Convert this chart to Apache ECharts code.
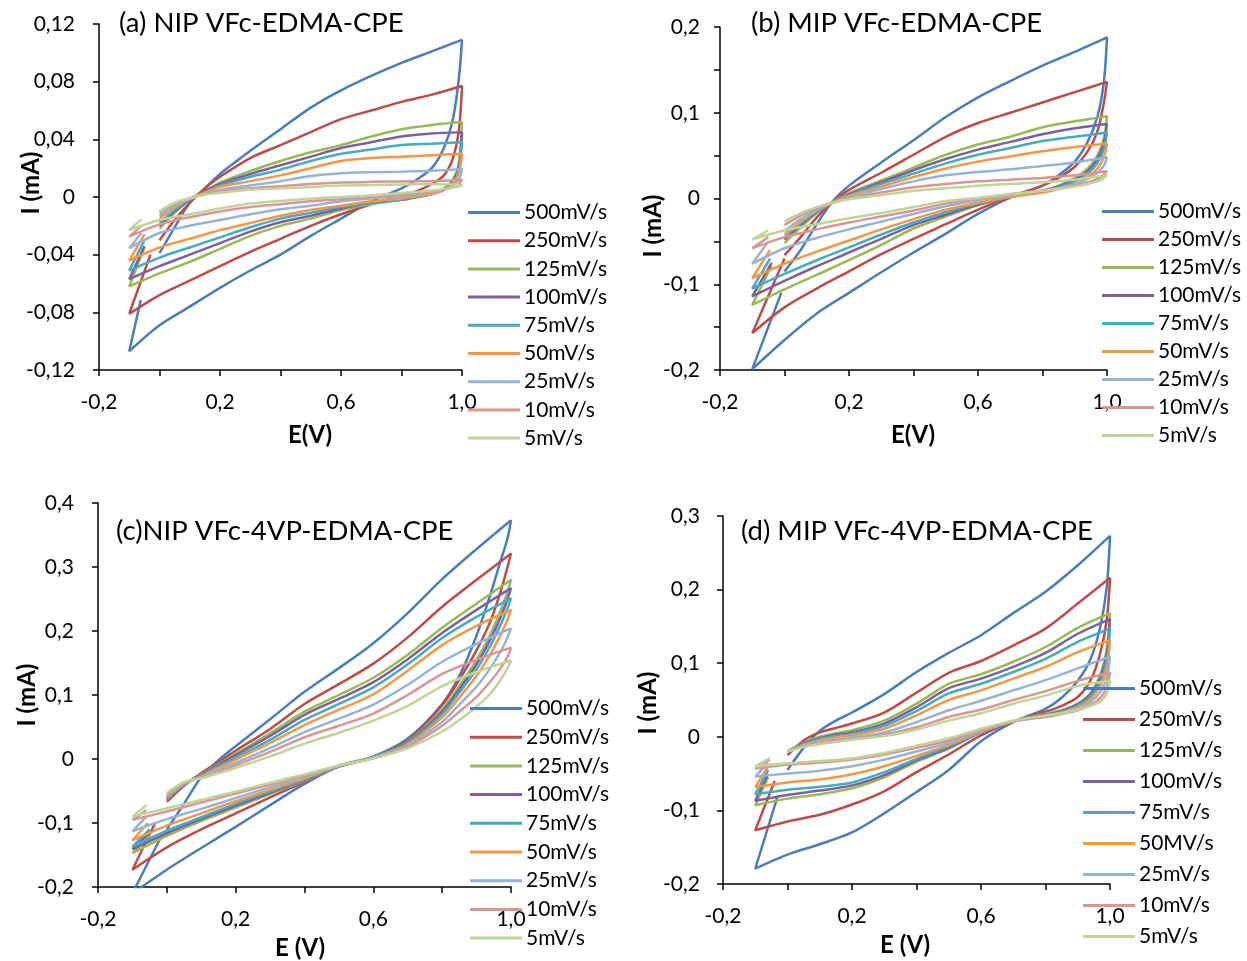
<!DOCTYPE html>
<html>
<head>
<meta charset="utf-8">
<script src="https://cdn.jsdelivr.net/npm/echarts@6/dist/echarts.min.js"></script>
<style>html,body{margin:0;padding:0;background:#fff;}#chart{width:1247px;height:961px;}</style>
</head>
<body>
<div id="chart"></div>
<script>
// ---------- DATA ----------
const SERIES_NAMES = ['500mV/s','250mV/s','125mV/s','100mV/s','75mV/s','50mV/s','25mV/s','10mV/s','5mV/s'];
const SERIES_NAMES_D = ['500mV/s','250mV/s','125mV/s','100mV/s','75mV/s','50MV/s','25mV/s','10mV/s','5mV/s'];
const PANEL_TITLES = ['(a) NIP VFc-EDMA-CPE','(b) MIP VFc-EDMA-CPE','(c)NIP VFc-4VP-EDMA-CPE','(d) MIP VFc-4VP-EDMA-CPE'];
const X_TITLES = ['E(V)','E(V)','E (V)','E (V)'];
const Y_TITLE = 'I (mA)';
// potentials (V) of the anodic (forward) sweep and the cathodic (reverse) sweep
const E_FWD = [0, 0.05, 0.1, 0.15, 0.2, 0.3, 0.4, 0.5, 0.6, 0.7, 0.8, 0.9, 1.0];
const E_REV = [0.99, 0.97, 0.94, 0.9, 0.85, 0.8, 0.7, 0.6, 0.5, 0.4, 0.3, 0.2, 0.1, 0.0, -0.1];

// (a) NIP VFc-EDMA-CPE  (rows: 500,250,125,100,75,50,25,10,5 mV/s)
const a_forward = [
 [-0.039,-0.021,-0.004,0.006,0.016,0.032,0.047,0.062,0.074,0.084,0.093,0.101,0.109],
 [-0.030,-0.016,-0.004,0.006,0.014,0.027,0.036,0.045,0.054,0.060,0.066,0.071,0.077],
 [-0.022,-0.011,-0.002,0.004,0.010,0.018,0.025,0.031,0.036,0.042,0.047,0.050,0.052],
 [-0.020,-0.010,-0.002,0.004,0.009,0.016,0.022,0.028,0.034,0.038,0.042,0.044,0.045],
 [-0.018,-0.009,-0.002,0.003,0.008,0.014,0.019,0.025,0.030,0.033,0.036,0.037,0.038],
 [-0.015,-0.007,-0.001,0.003,0.007,0.011,0.015,0.020,0.025,0.027,0.028,0.029,0.030],
 [-0.013,-0.006,-0.001,0.002,0.005,0.008,0.011,0.0145,0.0165,0.0172,0.0176,0.0182,0.0195],
 [-0.011,-0.005,-0.001,0.002,0.004,0.006,0.0075,0.009,0.010,0.0105,0.0108,0.011,0.012],
 [-0.010,-0.004,-0.001,0.0015,0.003,0.005,0.006,0.007,0.008,0.0083,0.0087,0.0088,0.0085]
];
const a_reverse = [
 [0.083,0.054,0.034,0.020,0.012,0.006,-0.003,-0.015,-0.027,-0.040,-0.051,-0.063,-0.076,-0.089,-0.107],
 [0.047,0.027,0.015,0.009,0.004,0.001,-0.005,-0.012,-0.020,-0.029,-0.038,-0.048,-0.058,-0.068,-0.081],
 [0.024,0.012,0.006,0.002,0.0,-0.002,-0.005,-0.009,-0.015,-0.020,-0.027,-0.036,-0.045,-0.053,-0.062],
 [0.022,0.011,0.005,0.002,0.0,-0.002,-0.004,-0.008,-0.013,-0.0175,-0.024,-0.032,-0.040,-0.048,-0.057],
 [0.020,0.010,0.005,0.002,0.0,-0.0015,-0.004,-0.007,-0.011,-0.015,-0.021,-0.028,-0.035,-0.042,-0.051],
 [0.017,0.009,0.005,0.002,0.0005,-0.001,-0.003,-0.006,-0.009,-0.013,-0.018,-0.023,-0.029,-0.035,-0.044],
 [0.012,0.008,0.005,0.003,0.0015,0.0005,-0.001,-0.003,-0.006,-0.0085,-0.012,-0.016,-0.020,-0.025,-0.0355],
 [0.009,0.007,0.005,0.0035,0.0025,0.0015,0.0,-0.0015,-0.003,-0.005,-0.007,-0.010,-0.014,-0.019,-0.0275],
 [0.0075,0.0065,0.0055,0.0045,0.0035,0.0028,0.0012,0.0,-0.0012,-0.0027,-0.0045,-0.0079,-0.012,-0.016,-0.023]
];
const a_tailE = [-0.062,-0.03,-0.05,-0.05,-0.05,-0.05,-0.06,-0.06,-0.06];
const a_tailI = [-0.0715,-0.040,-0.035,-0.034,-0.030,-0.026,-0.025,-0.020,-0.0155];

// (b) MIP VFc-EDMA-CPE
const b_forward = [
 [-0.085,-0.06,-0.03,-0.003,0.015,0.042,0.068,0.095,0.118,0.137,0.155,0.171,0.188],
 [-0.066,-0.045,-0.022,-0.004,0.010,0.030,0.051,0.072,0.088,0.100,0.112,0.124,0.136],
 [-0.052,-0.034,-0.017,-0.004,0.006,0.021,0.036,0.051,0.063,0.072,0.083,0.090,0.096],
 [-0.048,-0.031,-0.016,-0.004,0.005,0.019,0.033,0.046,0.057,0.066,0.075,0.082,0.087],
 [-0.045,-0.029,-0.015,-0.004,0.004,0.017,0.029,0.041,0.051,0.059,0.067,0.072,0.077],
 [-0.042,-0.027,-0.014,-0.004,0.003,0.014,0.025,0.035,0.043,0.049,0.055,0.060,0.064],
 [-0.038,-0.024,-0.013,-0.005,0.001,0.011,0.020,0.027,0.031,0.034,0.038,0.042,0.048],
 [-0.031,-0.020,-0.011,-0.005,0.0,0.007,0.013,0.017,0.020,0.022,0.024,0.027,0.032],
 [-0.027,-0.017,-0.010,-0.005,-0.001,0.004,0.009,0.012,0.015,0.017,0.019,0.022,0.027]
];
const b_reverse = [
 [0.135,0.095,0.066,0.043,0.027,0.015,0.001,-0.018,-0.041,-0.063,-0.086,-0.110,-0.134,-0.165,-0.199],
 [0.111,0.078,0.055,0.037,0.024,0.015,0.002,-0.013,-0.030,-0.047,-0.065,-0.085,-0.105,-0.127,-0.157],
 [0.070,0.050,0.035,0.024,0.015,0.009,0.002,-0.008,-0.021,-0.035,-0.054,-0.072,-0.089,-0.106,-0.124],
 [0.064,0.046,0.032,0.022,0.014,0.009,0.002,-0.007,-0.019,-0.031,-0.047,-0.063,-0.079,-0.096,-0.114],
 [0.057,0.041,0.029,0.020,0.013,0.008,0.002,-0.006,-0.016,-0.028,-0.042,-0.057,-0.072,-0.088,-0.105],
 [0.048,0.035,0.025,0.017,0.011,0.007,0.002,-0.005,-0.013,-0.024,-0.036,-0.049,-0.062,-0.076,-0.093],
 [0.038,0.030,0.023,0.017,0.012,0.009,0.004,-0.002,-0.009,-0.018,-0.027,-0.036,-0.046,-0.058,-0.076],
 [0.028,0.023,0.019,0.015,0.012,0.009,0.005,0.0,-0.006,-0.014,-0.021,-0.028,-0.036,-0.045,-0.058],
 [0.024,0.020,0.017,0.014,0.011,0.009,0.005,0.001,-0.003,-0.010,-0.017,-0.023,-0.030,-0.037,-0.048]
];
const b_tailE = [-0.01,0.0,-0.04,-0.04,-0.045,-0.045,-0.05,-0.05,-0.05];
const b_tailI = [-0.11,-0.07,-0.078,-0.075,-0.070,-0.060,-0.050,-0.045,-0.037];

// (c) NIP VFc-4VP-EDMA-CPE
const c_forward = [
 [-0.11,-0.07,-0.028,-0.002,0.020,0.062,0.105,0.142,0.181,0.228,0.281,0.328,0.373],
 [-0.067,-0.042,-0.022,-0.005,0.013,0.047,0.086,0.117,0.149,0.190,0.238,0.280,0.321],
 [-0.064,-0.040,-0.024,-0.008,0.008,0.040,0.074,0.100,0.127,0.163,0.205,0.243,0.280],
 [-0.063,-0.040,-0.025,-0.009,0.006,0.036,0.069,0.094,0.120,0.156,0.197,0.233,0.267],
 [-0.062,-0.040,-0.026,-0.011,0.002,0.030,0.061,0.086,0.112,0.148,0.189,0.222,0.251],
 [-0.060,-0.039,-0.027,-0.014,-0.001,0.025,0.053,0.077,0.101,0.138,0.178,0.208,0.233],
 [-0.058,-0.038,-0.028,-0.017,-0.006,0.017,0.042,0.063,0.085,0.116,0.152,0.180,0.204],
 [-0.056,-0.037,-0.029,-0.020,-0.010,0.011,0.034,0.052,0.071,0.100,0.133,0.155,0.174],
 [-0.053,-0.036,-0.030,-0.022,-0.014,0.004,0.024,0.041,0.060,0.083,0.114,0.136,0.154]
];
const c_reverse = [
 [0.345,0.310,0.257,0.193,0.130,0.086,0.032,0.004,-0.011,-0.039,-0.072,-0.106,-0.139,-0.173,-0.210],
 [0.300,0.262,0.215,0.170,0.124,0.084,0.029,0.003,-0.012,-0.036,-0.060,-0.085,-0.110,-0.138,-0.173],
 [0.262,0.232,0.195,0.155,0.114,0.077,0.027,0.003,-0.012,-0.034,-0.055,-0.076,-0.097,-0.120,-0.147],
 [0.250,0.222,0.187,0.148,0.109,0.074,0.026,0.003,-0.012,-0.033,-0.053,-0.073,-0.094,-0.116,-0.141],
 [0.236,0.210,0.177,0.140,0.104,0.070,0.025,0.003,-0.011,-0.032,-0.051,-0.070,-0.091,-0.112,-0.137],
 [0.218,0.194,0.164,0.130,0.096,0.065,0.023,0.002,-0.011,-0.030,-0.048,-0.066,-0.085,-0.104,-0.127],
 [0.190,0.168,0.142,0.113,0.085,0.058,0.021,0.002,-0.011,-0.028,-0.044,-0.061,-0.078,-0.094,-0.113],
 [0.160,0.142,0.121,0.097,0.074,0.052,0.019,0.001,-0.010,-0.026,-0.040,-0.054,-0.068,-0.082,-0.095],
 [0.142,0.124,0.102,0.082,0.061,0.043,0.017,0.001,-0.010,-0.024,-0.037,-0.051,-0.064,-0.077,-0.090]
];
const c_tailE = [-0.02,-0.034,-0.05,-0.05,-0.05,-0.055,-0.06,-0.06,-0.059];
const c_tailI = [-0.125,-0.100,-0.120,-0.115,-0.110,-0.100,-0.090,-0.080,-0.072];

// (d) MIP VFc-4VP-EDMA-CPE
const d_forward = [
 [-0.045,-0.015,0.008,0.022,0.033,0.058,0.088,0.114,0.138,0.168,0.197,0.233,0.273],
 [-0.025,-0.005,0.006,0.012,0.018,0.033,0.060,0.087,0.103,0.124,0.147,0.181,0.216],
 [-0.020,-0.008,0.0,0.005,0.009,0.022,0.045,0.072,0.085,0.102,0.122,0.148,0.168],
 [-0.020,-0.009,-0.002,0.003,0.006,0.018,0.040,0.066,0.079,0.095,0.114,0.140,0.160],
 [-0.020,-0.010,-0.003,0.001,0.004,0.015,0.035,0.059,0.072,0.088,0.106,0.129,0.147],
 [-0.020,-0.011,-0.005,-0.001,0.002,0.011,0.029,0.050,0.063,0.079,0.095,0.115,0.131],
 [-0.020,-0.012,-0.007,-0.004,-0.001,0.006,0.020,0.036,0.049,0.063,0.077,0.093,0.109],
 [-0.020,-0.013,-0.009,-0.006,-0.003,0.003,0.013,0.027,0.037,0.050,0.062,0.076,0.087],
 [-0.020,-0.014,-0.010,-0.007,-0.004,0.001,0.010,0.022,0.032,0.045,0.056,0.069,0.076]
];
const d_reverse = [
 [0.204,0.150,0.106,0.076,0.053,0.038,0.020,-0.006,-0.045,-0.075,-0.104,-0.130,-0.146,-0.160,-0.179],
 [0.159,0.114,0.077,0.054,0.042,0.034,0.021,0.002,-0.024,-0.048,-0.074,-0.092,-0.106,-0.115,-0.127],
 [0.120,0.085,0.060,0.045,0.036,0.031,0.021,0.006,-0.016,-0.034,-0.055,-0.070,-0.078,-0.084,-0.093],
 [0.112,0.080,0.058,0.044,0.035,0.030,0.021,0.006,-0.015,-0.032,-0.052,-0.066,-0.073,-0.079,-0.087],
 [0.104,0.075,0.055,0.042,0.034,0.029,0.021,0.006,-0.013,-0.030,-0.048,-0.062,-0.068,-0.072,-0.078],
 [0.094,0.069,0.051,0.040,0.033,0.028,0.021,0.007,-0.011,-0.026,-0.040,-0.051,-0.058,-0.062,-0.068],
 [0.080,0.061,0.047,0.038,0.032,0.028,0.021,0.008,-0.008,-0.020,-0.031,-0.040,-0.046,-0.050,-0.054],
 [0.068,0.053,0.043,0.036,0.031,0.027,0.021,0.009,-0.005,-0.015,-0.024,-0.031,-0.035,-0.038,-0.043],
 [0.059,0.048,0.042,0.037,0.032,0.029,0.022,0.011,-0.002,-0.012,-0.022,-0.029,-0.033,-0.036,-0.040]
];
const d_tailE = [-0.03,-0.04,-0.06,-0.06,-0.06,-0.06,-0.06,-0.055,-0.055];
const d_tailI = [-0.08,-0.06,-0.055,-0.05,-0.045,-0.04,-0.035,-0.031,-0.029];

// y-axis ranges / steps per panel
const Y_MIN = [-0.12, -0.2, -0.2, -0.2];
const Y_MAX = [0.12, 0.2, 0.4, 0.3];
const Y_STEP = [0.04, 0.05, 0.1, 0.1];
const X_LABELED = [-0.2, 0.2, 0.6, 1.0];

// ---------- STYLE / LAYOUT ----------
const COLORS = ['#4A7EBB','#BE4B48','#98B954','#7D60A0','#46AAC5','#F79646','#95B3D7','#D99694','#BFD496'];
const FONT = 'Lato, "Open Sans", sans-serif';
const GRIDS = [
  {left: 99, top: 24, width: 363, height: 346},
  {left: 720, top: 27, width: 387, height: 343},
  {left: 98, top: 503, width: 413, height: 384},
  {left: 723, top: 516, width: 387, height: 368}
];
const LEGENDS = [
  {left: 468, top: 202, gap: 7.2},
  {left: 1102, top: 201, gap: 7},
  {left: 470, top: 698, gap: 7.7},
  {left: 1083, top: 678, gap: 10}
];
const Y_LABEL_MARGIN = [24, 20, 24, 23];
const TITLE_POS = [[119, 23], [751, 23], [116, 531], [741, 531]];
const XNAME_POS = [[310, 435], [913, 435], [300, 948], [905, 945]];
const YNAME_POS = [[31, 183], [653, 226], [27, 695], [648, 703]];

const panels = [
  {fwd: a_forward, rev: a_reverse, tE: a_tailE, tI: a_tailI, names: SERIES_NAMES},
  {fwd: b_forward, rev: b_reverse, tE: b_tailE, tI: b_tailI, names: SERIES_NAMES},
  {fwd: c_forward, rev: c_reverse, tE: c_tailE, tI: c_tailI, names: SERIES_NAMES},
  {fwd: d_forward, rev: d_reverse, tE: d_tailE, tI: d_tailI, names: SERIES_NAMES_D}
];

function loopPoints(fwd, rev, te, ti) {
  const pts = [];
  E_FWD.forEach((e, j) => pts.push([e, fwd[j]]));
  E_REV.forEach((e, j) => pts.push([e, rev[j]]));
  pts.push([te, ti]);
  return pts;
}
function comma(s) { return s.replace('.', ','); }

const grid = [], xAxis = [], yAxis = [], series = [], legend = [], graphic = [];
panels.forEach((p, i) => {
  grid.push(Object.assign({containLabel: false}, GRIDS[i]));
  xAxis.push({
    type: 'value', gridIndex: i, min: -0.2, max: 1.0, interval: 0.2,
    axisLine: {onZero: false, lineStyle: {color: '#000', width: 1.5}},
    axisTick: {show: true, inside: false, length: 6, lineStyle: {color: '#000', width: 1.5}},
    splitLine: {show: false},
    axisLabel: {
      color: '#000', fontSize: 21, fontFamily: FONT, margin: 22,
      formatter: v => X_LABELED.some(t => Math.abs(t - v) < 1e-6) ? comma(v.toFixed(1)) : ''
    }
  });
  yAxis.push({
    type: 'value', gridIndex: i, min: Y_MIN[i], max: Y_MAX[i], interval: Y_STEP[i],
    axisLine: {show: true, onZero: false, lineStyle: {color: '#000', width: 1.5}},
    axisTick: {show: true, inside: false, length: 6, lineStyle: {color: '#000', width: 1.5}},
    splitLine: {show: false},
    axisLabel: {
      color: '#000', fontSize: 21, fontFamily: FONT, margin: Y_LABEL_MARGIN[i],
      formatter: v => {
        if (Math.abs(v) < 1e-9) return '0';
        if (i === 0) return comma(v.toFixed(2));
        if (i === 1) {
          const r = v * 10;
          if (Math.abs(r - Math.round(r)) > 1e-6) return '';
        }
        return comma(v.toFixed(1));
      }
    }
  });
  p.names.forEach((name, k) => {
    series.push({
      name: name, type: 'line', xAxisIndex: i, yAxisIndex: i,
      data: loopPoints(p.fwd[k], p.rev[k], p.tE[k], p.tI[k]),
      showSymbol: false, symbol: 'none', smooth: 0.3, clip: true,
      lineStyle: {color: COLORS[k], width: 2.5},
      itemStyle: {color: COLORS[k]},
      emphasis: {disabled: true}
    });
  });
  legend.push({
    data: p.names, orient: 'vertical', left: LEGENDS[i].left, top: LEGENDS[i].top,
    padding: 0, itemWidth: 52, itemHeight: 3, itemGap: LEGENDS[i].gap, icon: 'rect',
    selectedMode: false,
    textStyle: {color: '#000', fontSize: 21, fontFamily: FONT, lineHeight: 21, padding: [0, 0, 0, -1]}
  });
  graphic.push({
    type: 'text', x: TITLE_POS[i][0], y: TITLE_POS[i][1],
    style: {text: PANEL_TITLES[i], fill: '#000', font: '27.5px ' + FONT, align: 'left', verticalAlign: 'middle'}
  });
  graphic.push({
    type: 'text', x: XNAME_POS[i][0], y: XNAME_POS[i][1],
    style: {text: X_TITLES[i], fill: '#000', font: 'bold 24px ' + FONT, align: 'center', verticalAlign: 'middle'}
  });
  graphic.push({
    type: 'text', x: YNAME_POS[i][0], y: YNAME_POS[i][1], rotation: Math.PI / 2,
    style: {text: Y_TITLE, fill: '#000', font: 'bold 24px ' + FONT, align: 'center', verticalAlign: 'middle'}
  });
});

const chart = echarts.init(document.getElementById('chart'), null, {renderer: 'canvas'});
chart.setOption({
  backgroundColor: '#ffffff',
  animation: false,
  grid: grid, xAxis: xAxis, yAxis: yAxis, series: series, legend: legend, graphic: graphic
});
</script>
</body>
</html>
